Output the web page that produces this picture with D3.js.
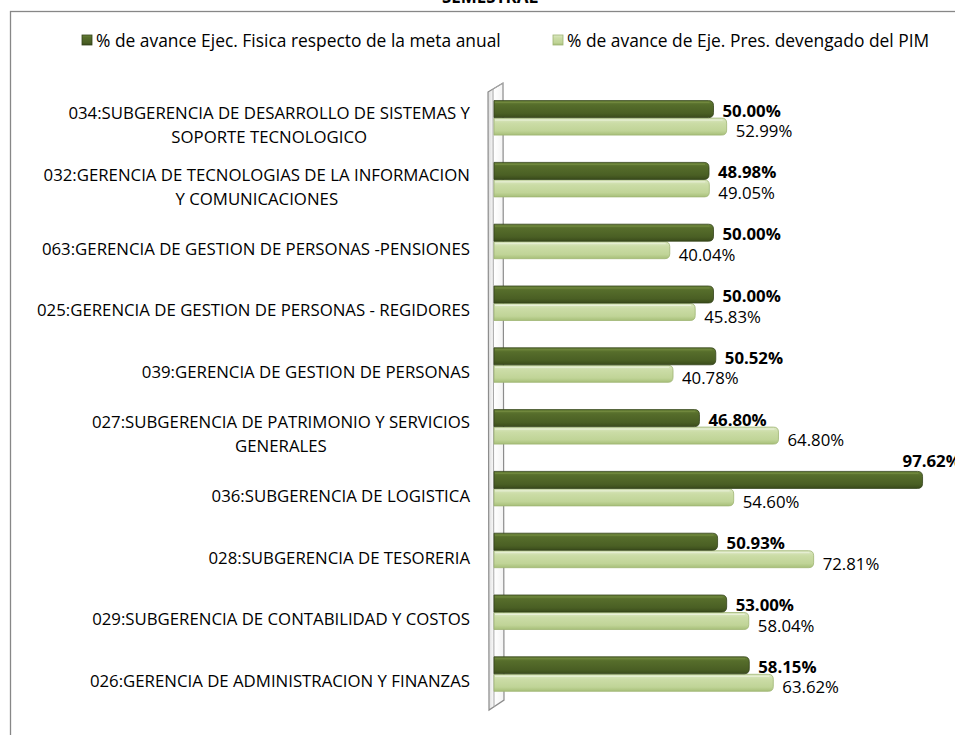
<!DOCTYPE html>
<html>
<head>
<meta charset="utf-8">
<script src="https://cdn.jsdelivr.net/npm/d3@7"></script>
<style>
  html, body { margin: 0; padding: 0; background: #fff; }
  svg { display: block; }
  text { font-family: "Open Sans", Lato, sans-serif; fill: #000; }
</style>
</head>
<body>
<svg id="chart" width="955" height="735"></svg>
<script>
const title = "SEMESTRAL";
const categories = [
  "034:SUBGERENCIA DE DESARROLLO DE SISTEMAS Y|SOPORTE TECNOLOGICO",
  "032:GERENCIA DE TECNOLOGIAS DE LA INFORMACION|Y COMUNICACIONES",
  "063:GERENCIA DE GESTION DE PERSONAS -PENSIONES",
  "025:GERENCIA DE GESTION DE PERSONAS - REGIDORES",
  "039:GERENCIA DE GESTION DE PERSONAS",
  "027:SUBGERENCIA DE PATRIMONIO Y SERVICIOS|GENERALES",
  "036:SUBGERENCIA DE LOGISTICA",
  "028:SUBGERENCIA DE TESORERIA",
  "029:SUBGERENCIA DE CONTABILIDAD Y COSTOS",
  "026:GERENCIA DE ADMINISTRACION Y FINANZAS"
];
const seriesNames = [
  "% de avance Ejec. Fisica respecto de la meta anual",
  "% de avance de Eje. Pres. devengado del PIM"
];
const fisica = [50.00, 48.98, 50.00, 50.00, 50.52, 46.80, 97.62, 50.93, 53.00, 58.15];
const presupuesto = [52.99, 49.05, 40.04, 45.83, 40.78, 64.80, 54.60, 72.81, 58.04, 63.62];

const W = 955, H = 735;
const FS = 16.8;
const svg = d3.select("#chart");
const defs = svg.append("defs");

function grad(id, stops, vertical = true) {
  const g = defs.append("linearGradient").attr("id", id)
    .attr("x1", 0).attr("y1", 0).attr("x2", vertical ? 0 : 1).attr("y2", vertical ? 1 : 0);
  stops.forEach(s => g.append("stop").attr("offset", s[0]).attr("stop-color", s[1]));
}
grad("gDark", [[0, "#6a8338"], [0.25, "#566d2b"], [0.75, "#4a5f24"], [1, "#3a4b1b"]]);
grad("gLight", [[0, "#dce8c4"], [0.3, "#cbdca6"], [0.75, "#c0d497"], [1, "#a7bf79"]]);
grad("gWall", [[0, "#d9d9d9"], [0.4, "#ffffff"], [1, "#f2f2f2"]], false);

svg.append("rect").attr("width", W).attr("height", H).attr("fill", "#fff");

// chart frame (extends beyond the visible area)
svg.append("rect").attr("x", 10.5).attr("y", 11.5).attr("width", 1000).attr("height", 800)
  .attr("fill", "none").attr("stroke", "#878787").attr("stroke-width", 1.3);

// title (cut off at top, as in the reference)
svg.append("text").attr("x", 490).attr("y", 2.5).attr("text-anchor", "middle")
  .attr("font-weight", "bold").attr("font-size", 17).text(title);

// scales
const x = d3.scaleLinear().domain([0, 100]).range([494, 933]);
const y0 = d3.scaleBand().domain(categories).range([87.6, 705.6]);
const y1 = d3.scaleBand().domain(["fisica", "pres"]).range([13, 48]);

// 3D wall
const xa = x(0), yt = y0.range()[0], yb = y0.range()[1];
const wall = svg.append("g");
wall.append("path")
  .attr("d", `M${xa - 6},${yt + 4.5} L${xa + 9},${yt - 4.5} L${xa + 10},${yb - 5.5} L${xa - 5},${yb + 4.5} Z`)
  .attr("fill", "url(#gWall)").attr("stroke", "#8c8c8c").attr("stroke-width", 1.2);
wall.append("line").attr("x1", xa - 1).attr("y1", yt + 1.5).attr("x2", xa).attr("y2", yb + 1.5)
  .attr("stroke", "#a6a6a6").attr("stroke-width", 1);
wall.append("line").attr("x1", xa - 1).attr("y1", yt + 1.5).attr("x2", xa + 9).attr("y2", yt - 4.5)
  .attr("stroke", "#a6a6a6").attr("stroke-width", 1);

// bars
function barPath(x0, x1, yTop, h) {
  const r = Math.min(5, (x1 - x0) / 2);
  return `M${x0},${yTop} L${x1 - r},${yTop} Q${x1},${yTop} ${x1},${yTop + r} L${x1},${yTop + h - r} Q${x1},${yTop + h} ${x1 - r},${yTop + h} L${x0},${yTop + h} Z`;
}
const data = categories.map((c, i) => ({ c, f: fisica[i], p: presupuesto[i] }));
const groups = svg.append("g").selectAll("g").data(data).join("g")
  .attr("transform", d => `translate(0,${y0(d.c)})`);

const bh = y1.bandwidth();
groups.append("path")
  .attr("d", d => barPath(x(0), x(d.p), y1("pres"), bh - 0.5))
  .attr("fill", "url(#gLight)").attr("stroke", "#9fb573").attr("stroke-width", 0.8);
groups.append("path")
  .attr("d", d => barPath(x(0), x(d.f), y1("fisica"), bh - 0.5))
  .attr("fill", "url(#gDark)").attr("stroke", "#33421a").attr("stroke-width", 0.8);
groups.append("line").attr("x1", x(0) + 1).attr("x2", d => x(d.f) - 4)
  .attr("y1", y1("fisica") + 2).attr("y2", y1("fisica") + 2)
  .attr("stroke", "#7d9448").attr("stroke-width", 1).attr("opacity", 0.6);
groups.append("line").attr("x1", x(0) + 1).attr("x2", d => x(d.p) - 4)
  .attr("y1", y1("pres") + 2).attr("y2", y1("pres") + 2)
  .attr("stroke", "#eef4e0").attr("stroke-width", 1).attr("opacity", 0.8);

// value labels
const fmt = v => v.toFixed(2) + "%";
groups.append("text")
  .attr("font-size", FS).attr("font-weight", "bold")
  .text(d => fmt(d.f))
  .each(function(d) {
    const t = d3.select(this);
    const w = this.getComputedTextLength();
    let tx = x(d.f) + 9, ty = y1("fisica") + bh - 1.5;
    if (tx + w > W - 2) { tx = x(d.f) - 20; ty = y1("fisica") - 4.5; }
    t.attr("x", tx).attr("y", ty);
  });
groups.append("text")
  .attr("font-size", FS)
  .attr("x", d => x(d.p) + 9).attr("y", y1("pres") + bh + 1.5)
  .text(d => fmt(d.p));

// category labels: block right-aligned, lines centred within the block
const labelRight = 470;
const lineH = 24;
const catG = svg.append("g");
categories.forEach(c => {
  const lines = c.split("|");
  const g = catG.append("g");
  const texts = lines.map(l => g.append("text").attr("font-size", FS).attr("text-anchor", "middle").text(l));
  const maxW = d3.max(texts, t => t.node().getComputedTextLength());
  const cx = labelRight - maxW / 2;
  const center = y0(c) + y0.bandwidth() / 2 + 6.5;
  const first = center - (lines.length - 1) * lineH / 2 + 6;
  texts.forEach((t, i) => t.attr("x", cx).attr("y", first + i * lineH));
});

// legend
const legend = svg.append("g");
const legItems = [
  { name: seriesNames[0], fill: "url(#gDark)", stroke: "#33421a", x: 82 },
  { name: seriesNames[1], fill: "url(#gLight)", stroke: "#9fb573", x: 553 }
];
legItems.forEach(it => {
  legend.append("rect").attr("x", it.x).attr("y", 35).attr("width", 10).attr("height", 10)
    .attr("fill", it.fill).attr("stroke", it.stroke).attr("stroke-width", 0.8);
  legend.append("text").attr("x", it.x + 14).attr("y", 46.5).attr("font-size", 17.4).text(it.name);
});
</script>
</body>
</html>
